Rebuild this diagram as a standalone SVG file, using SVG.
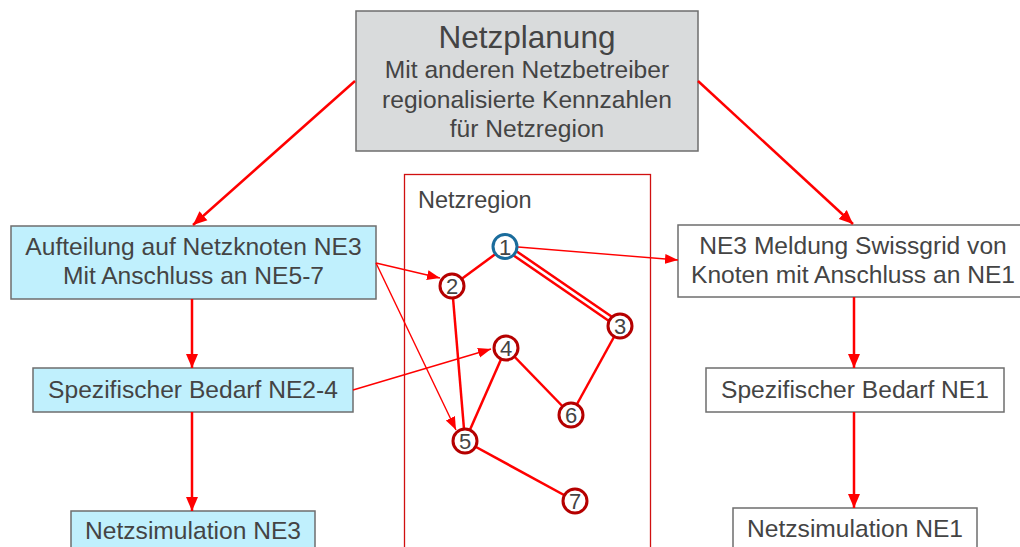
<svg xmlns="http://www.w3.org/2000/svg" width="1020" height="547" viewBox="0 0 1020 547">
<style>
.box{stroke:#6e6e6e;stroke-width:1.5}
.blue{fill:#c0f0fd}
.white{fill:#ffffff}
.gray{fill:#d9dbdc}
.t{font-family:"Liberation Sans",Arial,sans-serif;fill:#444;text-anchor:middle}
.f24{font-size:24.6px}
.thick{stroke:#ff0000;stroke-width:2.5;fill:none}
.thin{stroke:#ff0000;stroke-width:1.4;fill:none}
.edge{stroke:#ff0000;stroke-width:2.5;fill:none}
.node{fill:#ffffff;stroke:#b50000;stroke-width:3}
.nodeb{fill:#ffffff;stroke:#1a6c9c;stroke-width:3}
.nt{font-family:"Liberation Sans",Arial,sans-serif;font-size:22px;fill:#444;text-anchor:middle}
</style>
<defs>
<marker id="ah" markerUnits="userSpaceOnUse" markerWidth="16" markerHeight="14" refX="14" refY="7" orient="auto">
<path d="M0,1 L14,7 L0,13 Z" fill="#ff0000"/>
</marker>
<marker id="ahs" markerUnits="userSpaceOnUse" markerWidth="14" markerHeight="12" refX="13" refY="6" orient="auto">
<path d="M0,1 L13,6 L0,11 Z" fill="#ff0000"/>
</marker>
</defs>
<rect width="1020" height="547" fill="#ffffff"/>

<g id="netzregion">
<rect x="404.5" y="174.5" width="246" height="390" fill="#ffffff" stroke="#d01010" stroke-width="1.3"/>
<text x="418" y="208" font-family="Liberation Sans,Arial,sans-serif" font-size="23.5" fill="#444">Netzregion</text>
</g>

<g id="netzplanung">
<rect class="box gray" x="356" y="11" width="342" height="140"/>
<text class="t" x="527" y="48" font-size="31.5">Netzplanung</text>
<text class="t f24" x="527" y="78">Mit anderen Netzbetreiber</text>
<text class="t f24" x="527" y="108">regionalisierte Kennzahlen</text>
<text class="t f24" x="527" y="137">für Netzregion</text>
</g>

<g id="aufteilung">
<rect class="box blue" x="11" y="226" width="365" height="73"/>
<text class="t f24" x="193.5" y="255">Aufteilung auf Netzknoten NE3</text>
<text class="t f24" x="193.5" y="284">Mit Anschluss an NE5-7</text>
</g>
<g id="bedarf-ne2-4">
<rect class="box blue" x="33" y="368" width="320" height="44"/>
<text class="t f24" x="193" y="398">Spezifischer Bedarf NE2-4</text>
</g>
<g id="sim-ne3">
<rect class="box blue" x="71" y="511" width="244" height="60"/>
<text class="t f24" x="193" y="539">Netzsimulation NE3</text>
</g>

<g id="meldung">
<rect class="box white" x="678" y="225" width="350" height="72"/>
<text class="t f24" x="853" y="254">NE3 Meldung Swissgrid von</text>
<text class="t f24" x="853" y="283">Knoten mit Anschluss an NE1</text>
</g>
<g id="bedarf-ne1">
<rect class="box white" x="706" y="368" width="298" height="44"/>
<text class="t f24" x="855" y="398">Spezifischer Bedarf NE1</text>
</g>
<g id="sim-ne1">
<rect class="box white" x="733" y="508" width="244" height="60"/>
<text class="t f24" x="855" y="537">Netzsimulation NE1</text>
</g>

<g id="connectors">
<line class="thick" x1="355" y1="81" x2="193" y2="225" marker-end="url(#ah)"/>
<line class="thick" x1="698" y1="81" x2="853" y2="224" marker-end="url(#ah)"/>
<line class="thick" x1="192" y1="299" x2="192" y2="368" marker-end="url(#ah)"/>
<line class="thick" x1="192" y1="412" x2="192" y2="511" marker-end="url(#ah)"/>
<line class="thick" x1="854" y1="297" x2="854" y2="368" marker-end="url(#ah)"/>
<line class="thick" x1="854" y1="412" x2="854" y2="508" marker-end="url(#ah)"/>
<line class="thin" x1="376" y1="263" x2="440" y2="278" marker-end="url(#ahs)"/>
<line class="thin" x1="376" y1="263" x2="456" y2="430" marker-end="url(#ahs)"/>
<line class="thin" x1="353" y1="390" x2="491" y2="349" marker-end="url(#ahs)"/>
<line class="thin" x1="518" y1="247" x2="678" y2="260" marker-end="url(#ahs)"/>
<line class="edge" x1="505" y1="247" x2="452" y2="286"/>
<line class="edge" x1="503.8" y1="248.7" x2="618.8" y2="327.7"/>
<line class="edge" x1="506.7" y1="244.5" x2="621.7" y2="323.5"/>
<line class="edge" x1="452" y1="286" x2="465" y2="441"/>
<line class="edge" x1="506" y1="348" x2="465" y2="441"/>
<line class="edge" x1="506" y1="348" x2="571" y2="415"/>
<line class="edge" x1="620" y1="326" x2="571" y2="415"/>
<line class="edge" x1="465" y1="441" x2="575" y2="501"/>
</g>

<g id="n1"><circle class="nodeb" cx="505" cy="246.5" r="12"/><text class="nt" x="505" y="254.5">1</text></g>
<g id="n2"><circle class="node" cx="452" cy="286" r="12"/><text class="nt" x="452" y="294">2</text></g>
<g id="n3"><circle class="node" cx="620" cy="326" r="12"/><text class="nt" x="620" y="334">3</text></g>
<g id="n4"><circle class="node" cx="506" cy="348" r="12"/><text class="nt" x="506" y="356">4</text></g>
<g id="n5"><circle class="node" cx="465" cy="441" r="12"/><text class="nt" x="465" y="449">5</text></g>
<g id="n6"><circle class="node" cx="571" cy="415" r="12"/><text class="nt" x="571" y="423">6</text></g>
<g id="n7"><circle class="node" cx="575" cy="501" r="12"/><text class="nt" x="575" y="509">7</text></g>
</svg>
